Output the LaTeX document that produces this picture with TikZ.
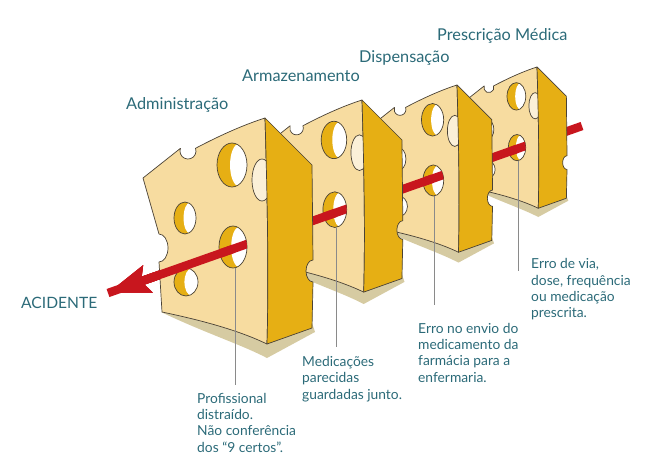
\documentclass[tikz,border=0pt]{standalone}
\usepackage{fontspec}
\setmainfont{Lato}
\usepackage{xcolor}
\usepackage{tikz}
\usetikzlibrary{arrows.meta,calc,positioning}

\definecolor{cheese}{HTML}{F7DCA0}
\definecolor{wall}{HTML}{E6AF14}
\definecolor{cream}{HTML}{FBF0D8}
\definecolor{rind}{HTML}{4A4236}
\definecolor{tan}{HTML}{D6CBA2}
\definecolor{blood}{HTML}{C8161E}
\definecolor{ink}{HTML}{2B6A78}
\definecolor{pin}{HTML}{8A8A8A}

\begin{document}
\begin{tikzpicture}[x=1pt,y=-1pt,
	face/.style={fill=cheese,draw=rind,line width=0.7pt,line join=round},
	side/.style={fill=wall,draw=rind,line width=0.7pt,line join=round},
	rim/.style={draw=rind,line width=0.7pt},
	shaft/.style={draw=blood,line width=8.5pt},
	leader/.style={draw=pin,line width=0.8pt},
	title/.style={text=ink,font=\fontsize{16.3}{19}\selectfont,inner sep=0pt},
	note/.style={text=ink,font=\fontsize{13.8}{16.2}\selectfont,align=left,inner sep=0pt}]
	\useasboundingbox (0,0) rectangle (647,474);

	\coordinate (a0) at (582,126);
	\coordinate (tip) at (108,293);
	\draw[shaft] (a0) -- (tip);

	% slices, back to front
	\foreach \x/\y/\s/\n in {537/67/0.625/4, 457/85/0.74/3, 362/100/0.85/2, 265/118/1/1} {
		\begin{scope}[shift={(\x,\y)},scale=\s]
			\fill[tan] (-104,194) .. controls (-60,215) and (-25,226) .. (2,240) -- (50,214) -- (47,205) -- cycle;
			\path[face] (0,0) .. controls (-25,8) and (-50,20) .. (-69.5,30.3)
				arc[start angle=-20,end angle=200,radius=8]
				-- (-122,60) -- (-106,116)
				arc[start angle=-90,end angle=90,x radius=9,y radius=14]
				-- (-103,194) .. controls (-60,203) and (-25,213) .. (2,226)
				.. controls (4,150) and (2,70) .. (0,0) -- cycle;
			\foreach \hx/\hy/\rx/\ry in {-33/47/15/22, -80/100/11/16, -32/129/14/21, -79/164/12/14} {
				\fill[wall] (\hx,\hy) ellipse[x radius=\rx,y radius=\ry];
				\begin{scope}
					\clip (\hx,\hy) ellipse[x radius=\rx,y radius=\ry];
					\fill[white] ($(\hx,\hy)+(0.45*\rx,0)$) ellipse[x radius=0.58*\rx,y radius=0.96*\ry];
				\end{scope}
				\draw[rim] (\hx,\hy) ellipse[x radius=\rx,y radius=\ry];
			}
			\draw[rim,fill=cream] (-3,62) ellipse[x radius=10,y radius=21];
			\path[side] (0,0) -- (47,47) -- (48,142)
				arc[start angle=-90,end angle=-270,x radius=7,y radius=11]
				-- (47,210) -- (2,226) .. controls (4,150) and (2,70) .. (0,0) -- cycle;
			\coordinate (h\n) at (-32,129);
			\coordinate (b\n) at (-30,150);
			\begin{scope}
				\clip (-32,129) ellipse[x radius=14,y radius=21];
				\draw[shaft] (a0) -- (tip);
			\end{scope}
		\end{scope}
		\draw[shaft,-{Stealth[length=41pt,width=27pt,inset=6pt]}] ($(a0)!(h\n)!(tip)$) -- (tip);
	}

	% labels
	\node[title,anchor=base west] (adm) at (126,109) {Administração};
	\node[title,anchor=base west] (arm) at (242,81.7) {Armazenamento};
	\node[title,anchor=base west] (dis) at (359,62.7) {Dispensação};
	\node[title,anchor=base west] (pre) at (437,40.7) {Prescrição Médica};
	\node[title,anchor=base west,font=\fontsize{15.6}{18}\selectfont] (aci) at (21,308) {ACIDENTE};

	% captions, anchored at the baseline of their last line
	\node[note,anchor=base west] (c1) at (197,452) {Profissional\\distraído.\\Não conferência\\dos “9 certos”.};
	\node[note,anchor=base west] (c2) at (302,399) {Medicações\\parecidas\\guardadas junto.};
	\node[note,anchor=base west] (c3) at (418,382) {Erro no envio do\\medicamento da\\farmácia para a\\enfermaria.};
	\node[note,anchor=base west] (c4) at (531,317.5) {Erro de via,\\dose, frequência\\ou medicação\\prescrita.};

	\coordinate (e1) at (235,385);
	\coordinate (e2) at (337,347);
	\coordinate (e3) at (433,305);
	\coordinate (e4) at (517,271);
	\foreach \n in {1,...,4}
		\draw[leader] (b\n) -- (b\n |- e\n);
\end{tikzpicture}
\end{document}
